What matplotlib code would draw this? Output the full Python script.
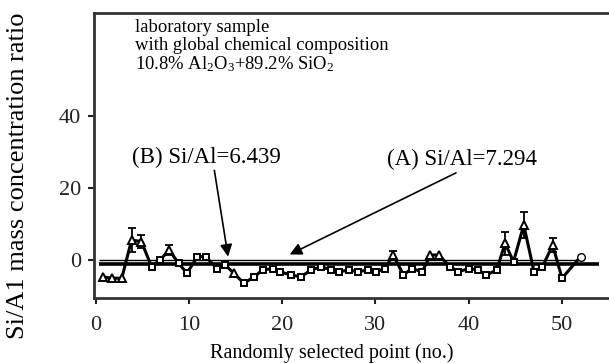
import numpy as np
import matplotlib
matplotlib.use('Agg')
import matplotlib.pyplot as plt

plt.rcParams['font.family'] = ['Liberation Serif', 'DejaVu Serif']
plt.rcParams['mathtext.fontset'] = 'custom'
plt.rcParams['mathtext.rm'] = 'Liberation Serif'
plt.rcParams['mathtext.it'] = 'Liberation Serif:italic'

# measured points (point number, Si/Al ratio)
pt_x = [0.8, 1.7, 2.8, 3.85, 4.9, 6.0, 6.9, 7.9, 8.9, 9.8,
        10.9, 11.8, 13.0, 13.9, 14.8, 15.9, 17.0, 17.9, 19.0, 19.8,
        20.9, 22.0, 23.1, 24.2, 25.2, 26.1, 27.2, 28.1, 29.2, 30.1,
        31.0, 31.9, 33.0, 33.9, 35.0, 35.9, 36.8, 38.0, 38.9, 40.0,
        41.0, 41.9, 43.0, 43.9, 44.8, 45.9, 47.0, 47.9, 49.0, 50.0]
ratio = [-4.8, -5.2, -5.2, 5.4, 5.0, -2.0, -0.1, 2.6, -1.1, -3.8,
         0.8, 0.8, -2.5, -1.5, -3.8, -6.6, -4.8, -2.9, -2.5, -3.4,
         -4.3, -4.8, -2.9, -2.0, -2.9, -3.4, -2.9, -3.4, -2.9, -3.4,
         -2.5, 1.25, -4.3, -2.5, -3.4, 1.25, 1.25, -2.0, -3.4, -2.5,
         -2.9, -4.3, -2.9, 4.5, -0.6, 9.6, -3.4, -2.0, 4.0, -5.2]
# points drawn as triangles, the others as squares
tri_idx = [0, 1, 2, 3, 4, 7, 14, 31, 35, 36, 43, 45, 48]

# error bars on the high points
err_x = [3.85, 4.9, 7.9, 31.9, 43.9, 45.9, 49.0]
err_y = [5.4, 5.0, 2.6, 1.25, 4.5, 9.6, 4.0]
err_up = [3.3, 1.8, 1.4, 1.25, 3.2, 3.7, 1.9]

# last point (circle)
last_x = 52.0
last_y = 0.8

# mean levels
level_B = 0.0
level_A = -1.2

fig = plt.figure(figsize=(6.09, 3.63), dpi=100)
ax = fig.add_axes([0.154, 0.179, 0.85, 0.785])

ax.hlines(level_B, 0.4, 51.5, colors='black', lw=1.0)
ax.hlines(level_A, 0.4, 54.0, colors='black', lw=2.6)

ax.errorbar(err_x, err_y, yerr=err_up, fmt='none', ecolor='black',
            elinewidth=1.3, capsize=3, capthick=1.3)
ax.plot(pt_x + [last_x], ratio + [last_y], color='black', lw=2.2)

sq_x = [pt_x[i] for i in range(len(pt_x)) if i not in tri_idx]
sq_y = [ratio[i] for i in range(len(pt_x)) if i not in tri_idx]
tr_x = [pt_x[i] for i in tri_idx]
tr_y = [ratio[i] for i in tri_idx]
ax.plot(sq_x, sq_y, 's', ms=5, mfc='white', mec='black', mew=1.4)
ax.plot(tr_x, tr_y, '^', ms=6, mfc='white', mec='black', mew=1.4)
ax.plot([last_x], [last_y], 'o', ms=5.5, mfc='white', mec='black', mew=1.0)

ax.set_xlim(-0.2, 55.3)
ax.set_ylim(-10.7, 68.5)
ax.set_xticks([0, 10, 20, 30, 40, 50])
ax.set_yticks([0, 20, 40])
ax.tick_params(direction='out', length=4, width=1.5, labelsize=16, colors='#222222')
ax.tick_params(axis='x', pad=9)
ax.tick_params(axis='y', pad=5)
for s in ax.spines.values():
    s.set_linewidth(2)
    s.set_color('#333333')
ax.spines['right'].set_visible(False)

ax.set_xlabel('Randomly selected point (no.)', fontsize=14.5)
ax.xaxis.set_label_coords(0.46, -0.16)
ax.set_ylabel('Si/A1 mass concentration ratio', fontsize=19)
ax.yaxis.set_label_coords(-0.125, 0.43)

ax.text(4.2, 64.6, 'laboratory sample', fontsize=13.4, va='center')
ax.text(4.2, 59.6, 'with global chemical composition', fontsize=13.4, va='center')
ax.text(4.2, 54.3, '10.8% Al$_2$O$_3$+89.2% SiO$_2$', fontsize=13.4, va='center')

ax.annotate('(B) Si/Al=6.439', xy=(14.2, 0.8), xytext=(3.9, 28.5),
            fontsize=16.5, va='center',
            arrowprops=dict(arrowstyle='-|>', color='black', lw=1.2,
                            mutation_scale=18, shrinkA=0, shrinkB=0,
                            relpos=(0.55, 0)))
ax.annotate('(A) Si/Al=7.294', xy=(20.8, 1.4), xytext=(31.2, 27.8),
            fontsize=16.5, va='center',
            arrowprops=dict(arrowstyle='-|>', color='black', lw=1.2,
                            mutation_scale=18, shrinkA=0, shrinkB=0,
                            relpos=(0.5, 0)))

fig.savefig('out.png', dpi=100)
